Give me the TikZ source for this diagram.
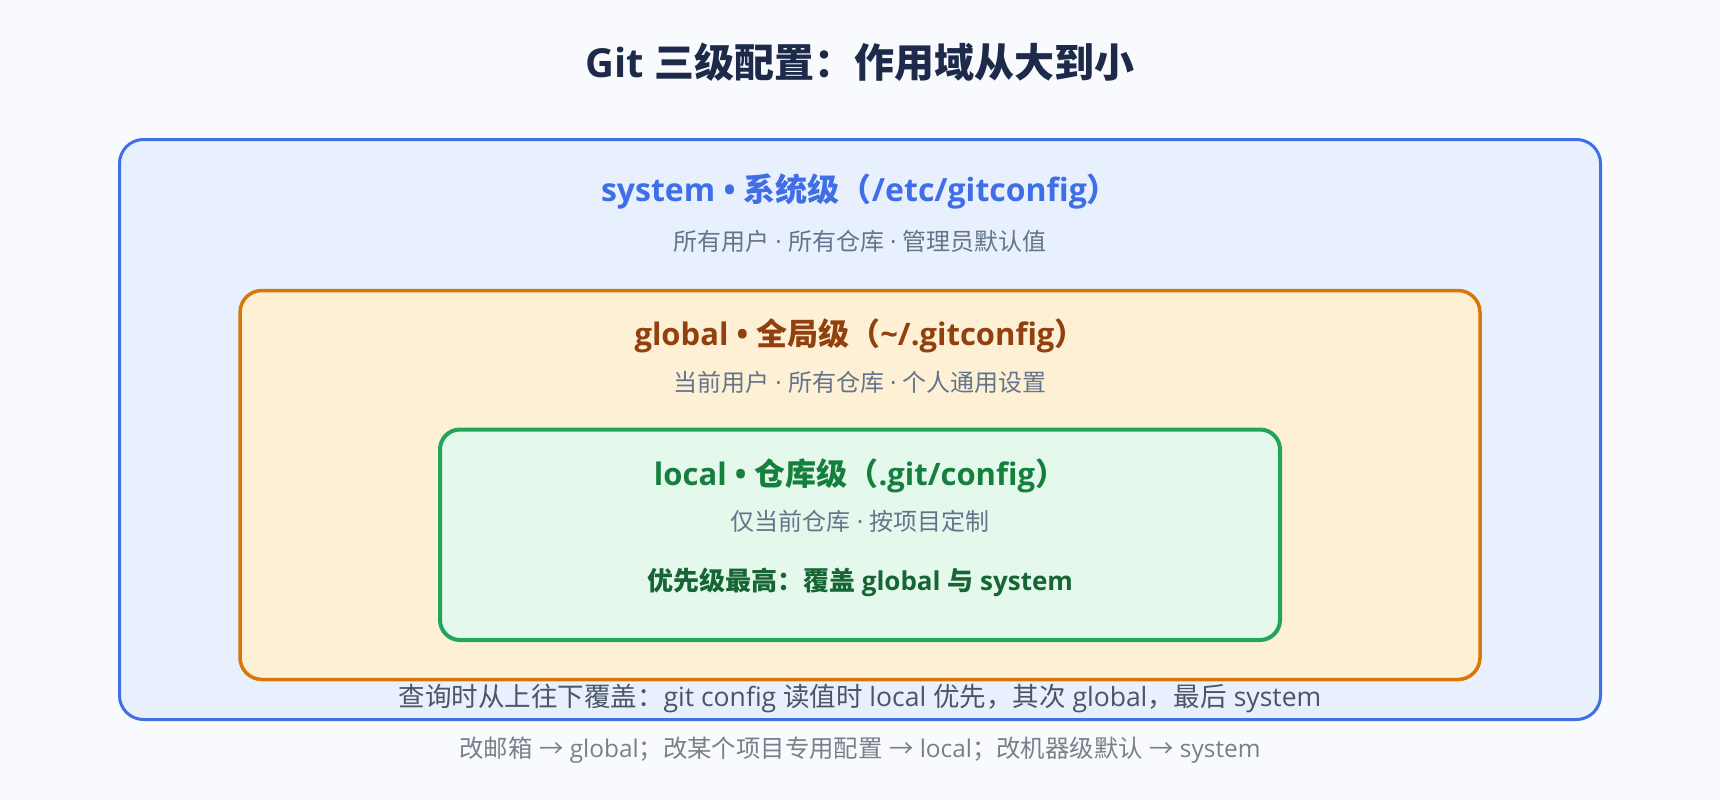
\documentclass[tikz,border=0pt]{standalone}
\usepackage{fontspec}
\setmainfont{Noto Sans CJK SC}
\newfontfamily\latf{Open Sans}
\newcommand\lt[1]{{\latf #1}}
\definecolor{bgc}{HTML}{F8FAFD}
\definecolor{titlec}{HTML}{1E2A4A}
\definecolor{sysline}{HTML}{4070E4}
\definecolor{sysfill}{HTML}{E8F0FD}
\definecolor{systext}{HTML}{3F6EE6}
\definecolor{glbline}{HTML}{D97706}
\definecolor{glbfill}{HTML}{FEF0D5}
\definecolor{glbtext}{HTML}{92400E}
\definecolor{locline}{HTML}{22A55B}
\definecolor{locfill}{HTML}{E4F8EC}
\definecolor{loctext}{HTML}{15803D}
\definecolor{locbold}{HTML}{166534}
\definecolor{subc}{HTML}{64748B}
\definecolor{notec}{HTML}{4B5563}
\definecolor{lastc}{HTML}{7A7F89}
\tikzset{
  lvbox/.style={rectangle, inner sep=0pt, outer sep=0pt},
  txt/.style={anchor=base, inner sep=0pt, outer sep=0pt},
  fs/.style={font=\fontsize{#1}{#1}\selectfont},
  fsb/.style={font=\fontsize{#1}{#1}\selectfont\bfseries},
}
\begin{document}
\begin{tikzpicture}[x=1pt,y=-1pt]
\fill[bgc] (0,0) rectangle (1720,800);
\useasboundingbox (0,0) rectangle (1720,800);
% boxes
\node[lvbox, draw=sysline, fill=sysfill, line width=3pt, rounded corners=24pt,
  minimum width=1481pt, minimum height=580pt] (sysbox) at (860,429.5) {};
\node[lvbox, draw=glbline, fill=glbfill, line width=3.5pt, rounded corners=22pt,
  minimum width=1240pt, minimum height=389pt] (glbbox) at (860,485) {};
\node[lvbox, draw=locline, fill=locfill, line width=4pt, rounded corners=20pt,
  minimum width=840pt, minimum height=210.5pt] (locbox) at (860,534.75) {};
% title
\node[txt, fsb=40, text=titlec] (title) at (860,77.7) {\lt{Git }三级配置：作用域从大到小};
% system
\node[txt, fsb=32, text=systext] (systitle) at (860,201.5) {\lt{system • }系统级（\lt{/etc/gitconfig}）};
\node[txt, fs=24, text=subc] (syssub) at (860,250.1) {所有用户\lt{ · }所有仓库\lt{ · }管理员默认值};
% global
\node[txt, fsb=31, text=glbtext] (glbtitle) at (860,345.3) {\lt{global • }全局级（\lt{\string~/.gitconfig}）};
\node[txt, fs=24, text=subc] (glbsub) at (860,391.1) {当前用户\lt{ · }所有仓库\lt{ · }个人通用设置};
% local
\node[txt, fsb=31, text=loctext] (loctitle) at (860,485.3) {\lt{local • }仓库级（\lt{.git/config}）};
\node[txt, fs=24, text=subc] (locsub) at (860,530.6) {仅当前仓库\lt{ · }按项目定制};
\node[txt, fsb=26, text=locbold] (locnote) at (860,590.4) {优先级最高：覆盖\lt{ global }与\lt{ system}};
% notes
\node[txt, fs=26.5, text=notec] (order) at (860,706) {查询时从上往下覆盖：\lt{git config }读值时\lt{ local }优先，其次\lt{ global}，最后\lt{ system}};
\node[txt, fs=24.4, text=lastc] (advice) at (860,757) {改邮箱\lt{ }→\lt{ global}；改某个项目专用配置\lt{ }→\lt{ local}；改机器级默认\lt{ }→\lt{ system}};
\end{tikzpicture}
\end{document}
